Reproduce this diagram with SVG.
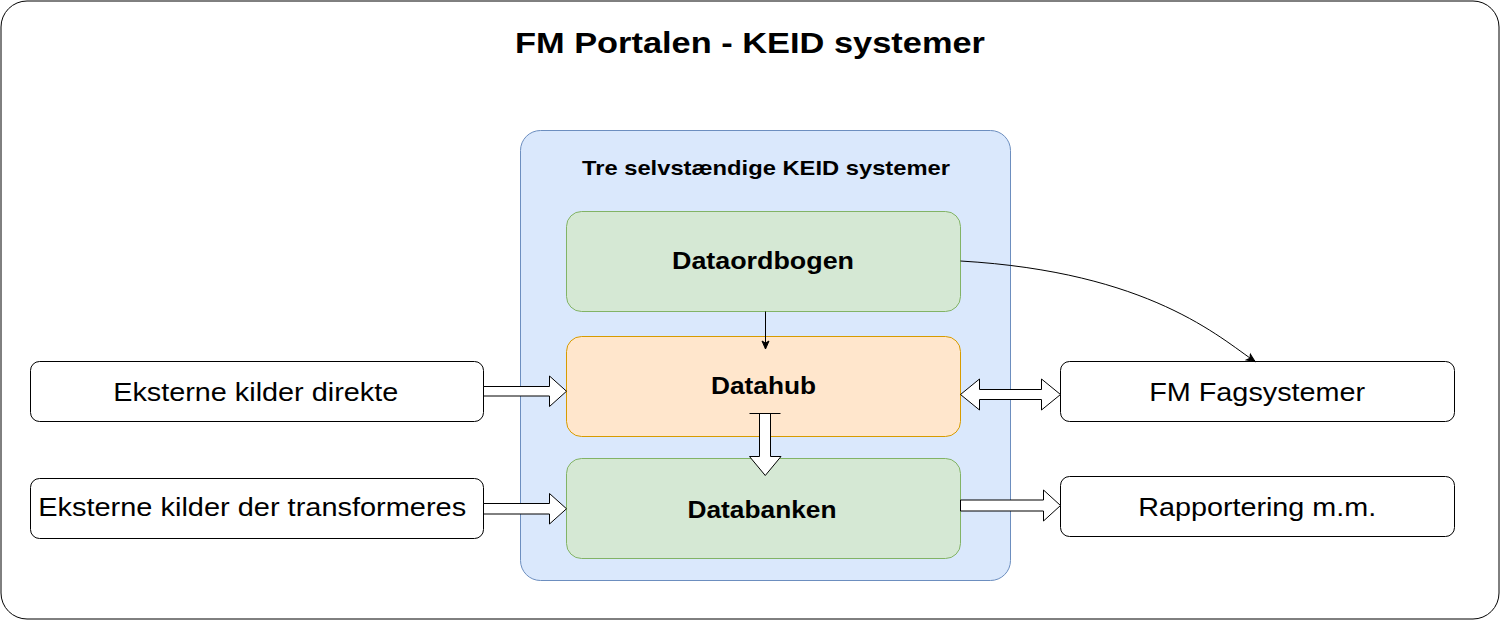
<svg xmlns="http://www.w3.org/2000/svg" width="1501" height="621" viewBox="0 0 1501 621">
<style>
text{font-family:"Liberation Sans",Arial,Helvetica,sans-serif;fill:#000;text-anchor:middle}
.b{font-weight:bold}
.plain{fill:#fff;stroke:#000;stroke-width:1}
.green{fill:#d5e8d4;stroke:#82b366;stroke-width:1}
.orange{fill:#ffe6cc;stroke:#d79b00;stroke-width:1}
.blue{fill:#dae8fc;stroke:#6c8ebf;stroke-width:1}
.flex{fill:#fff;stroke:#000;stroke-width:1;stroke-linejoin:miter}
.thin{fill:none;stroke:#000;stroke-width:1}
</style>
<defs>
<marker id="arr" markerUnits="userSpaceOnUse" markerWidth="10" markerHeight="10" viewBox="0 0 10 10" refX="9" refY="5" orient="auto">
<path d="M1,1.5 L9,5 L1,8.5 L3,5 Z" fill="#000" stroke="#000" stroke-width="1"/>
</marker>
</defs>
<g id="frame">
<rect x="1" y="1" width="1498" height="618" rx="26" ry="26" class="plain"/>
<text x="750" y="53" class="b" font-size="30" textLength="470" lengthAdjust="spacingAndGlyphs">FM Portalen - KEID systemer</text>
</g>
<g id="container">
<rect x="520.5" y="130.5" width="490" height="450" rx="20" ry="20" class="blue"/>
<text x="766" y="175" class="b" font-size="21" textLength="368" lengthAdjust="spacingAndGlyphs">Tre selvstændige KEID systemer</text>
</g>
<g id="dataordbogen">
<rect x="566.5" y="211.5" width="394" height="100" rx="15" ry="15" class="green"/>
<text x="763" y="269" class="b" font-size="24" textLength="182" lengthAdjust="spacingAndGlyphs">Dataordbogen</text>
</g>
<g id="datahub">
<rect x="566.5" y="336.5" width="394" height="100" rx="15" ry="15" class="orange"/>
<text x="763.5" y="394" class="b" font-size="24" textLength="105" lengthAdjust="spacingAndGlyphs">Datahub</text>
</g>
<g id="databanken">
<rect x="566.5" y="458.5" width="394" height="100" rx="15" ry="15" class="green"/>
<text x="762" y="517.5" class="b" font-size="24" textLength="149" lengthAdjust="spacingAndGlyphs">Databanken</text>
</g>
<g id="eksterne-direkte">
<rect x="30.5" y="361.5" width="453" height="60" rx="9" ry="9" class="plain"/>
<text x="255.7" y="401" font-size="26" textLength="285" lengthAdjust="spacingAndGlyphs">Eksterne kilder direkte</text>
</g>
<g id="eksterne-transformeres">
<rect x="30.5" y="478.5" width="453" height="60" rx="9" ry="9" class="plain"/>
<text x="252.2" y="515.7" font-size="26" textLength="428" lengthAdjust="spacingAndGlyphs">Eksterne kilder der transformeres</text>
</g>
<g id="fm-fagsystemer">
<rect x="1060.5" y="361.5" width="394" height="60" rx="9" ry="9" class="plain"/>
<text x="1257.2" y="401" font-size="26" textLength="216" lengthAdjust="spacingAndGlyphs">FM Fagsystemer</text>
</g>
<g id="rapportering">
<rect x="1060.5" y="476.5" width="394" height="60" rx="9" ry="9" class="plain"/>
<text x="1257.2" y="515.7" font-size="26" textLength="238" lengthAdjust="spacingAndGlyphs">Rapportering m.m.</text>
</g>
<g id="connectors">
<path class="flex" d="M483.5,386.5 L549.5,386.5 L549.5,376 L566.5,391.25 L549.5,406.5 L549.5,396 L483.5,396 Z"/>
<path class="flex" d="M483.5,503.5 L549.5,503.5 L549.5,493.5 L566.5,508.75 L549.5,524 L549.5,514 L483.5,514 Z"/>
<path class="flex" d="M960.5,394.5 L979.5,379 L979.5,389.5 L1041.5,389.5 L1041.5,379 L1060.5,394.5 L1041.5,410 L1041.5,399.5 L979.5,399.5 L979.5,410 Z"/>
<path class="flex" d="M960.5,500 L1043.5,500 L1043.5,490 L1060.5,505.5 L1043.5,521 L1043.5,511 L960.5,511 Z"/>
<path class="flex" d="M759.5,413.5 L759.5,456.5 L749.5,456.5 L765.25,475.5 L781,456.5 L770.5,456.5 L770.5,413.5 Z"/>
<path class="thin" d="M749.5,413.5 H780.5" stroke-width="1.5"/>
<path class="thin" d="M765.5,311.5 V349" marker-end="url(#arr)"/>
<path class="thin" d="M960.5,261 C1150,272 1220,338 1255,361.5" marker-end="url(#arr)"/>
</g>
</svg>
